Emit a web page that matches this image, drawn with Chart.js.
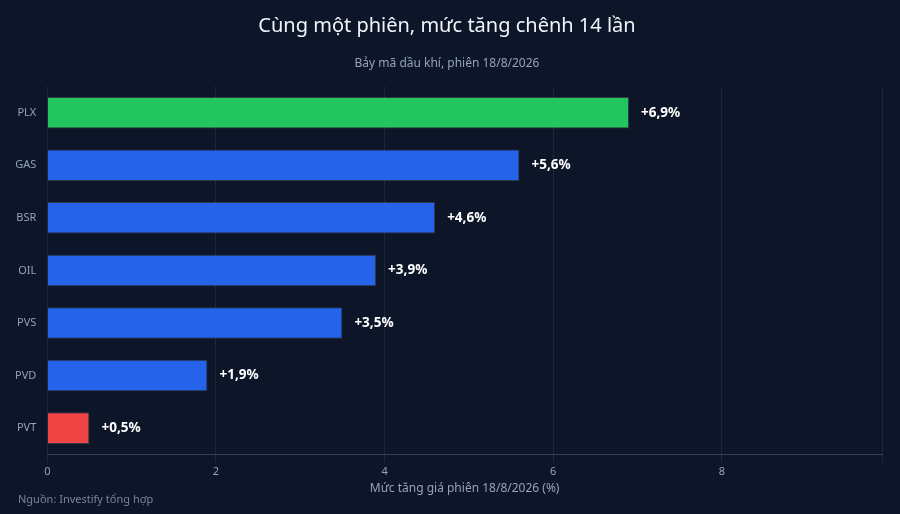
<!DOCTYPE html>
<html><head><meta charset="utf-8">
<script src="https://cdn.jsdelivr.net/npm/chart.js@4"></script>
<style>html,body{margin:0;background:#0c1628;}#w{width:900px;height:514px;position:relative}</style>
</head><body><div id="w"><canvas id="c"></canvas></div>
<script>
const categories=["PLX","GAS","BSR","OIL","PVS","PVD","PVT"];
const values=[6.9,5.6,4.6,3.9,3.5,1.9,0.5];
const labels=["+6,9%","+5,6%","+4,6%","+3,9%","+3,5%","+1,9%","+0,5%"];
const colors=["#22c55e","#2563eb","#2563eb","#2563eb","#2563eb","#2563eb","#ef4444"];
const valLbl={id:'v',afterDatasetsDraw(ch){const ctx=ch.ctx;ctx.save();ctx.fillStyle='#fff';ctx.font='bold 13.5px "Noto Sans"';ctx.textBaseline='middle';
ch.getDatasetMeta(0).data.forEach((b,i)=>ctx.fillText(labels[i],b.x+12,b.y));
ctx.font='11px "Noto Sans"';ctx.fillStyle='#7a8599';ctx.fillText('Nguồn: Investify tổng hợp',18,500);ctx.restore();}};
new Chart(document.getElementById('c'),{type:'bar',
data:{labels:categories,datasets:[{data:values,backgroundColor:colors,borderColor:'rgba(255,255,255,0.15)',borderWidth:1,categoryPercentage:1,barPercentage:0.6}]},
options:{indexAxis:'y',responsive:true,maintainAspectRatio:false,animation:false,
layout:{padding:{left:12,right:18,top:4,bottom:14}},
plugins:{legend:{display:false},tooltip:{enabled:false},
title:{display:true,text:'Cùng một phiên, mức tăng chênh 14 lần',color:'#f1f5f9',font:{family:'Noto Sans',size:20,weight:'normal'},padding:{top:10,bottom:18}},
subtitle:{display:true,text:'Bảy mã dầu khí, phiên 18/8/2026',color:'#94a3b8',font:{family:'Noto Sans',size:12},padding:{bottom:16}}},
scales:{x:{min:0,max:9.9,ticks:{stepSize:2,color:'#94a3b8',font:{family:'Noto Sans',size:11},callback:v=>v%2===0?v:''},grid:{color:'rgba(148,163,184,0.12)'},border:{color:'rgba(148,163,184,0.3)'},
title:{display:true,text:'Mức tăng giá phiên 18/8/2026 (%)',color:'#94a3b8',font:{family:'Noto Sans',size:12},padding:{top:0}}},
y:{ticks:{color:'#94a3b8',font:{family:'Noto Sans',size:11}},grid:{display:false},border:{display:false}}}},
plugins:[valLbl]});
</script></body></html>
